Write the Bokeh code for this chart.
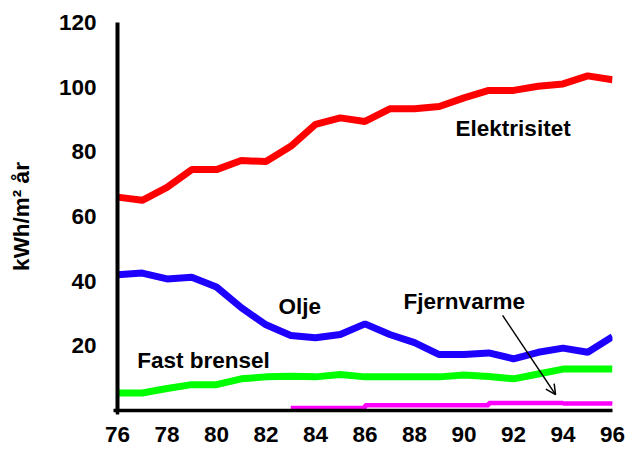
from bokeh.plotting import figure
from bokeh.models import Range1d, FixedTicker, Label, Arrow, OpenHead
from bokeh.embed import file_html
from bokeh.resources import INLINE

years = list(range(76, 97))
elektrisitet = [66, 65, 69, 74.5, 74.5, 77.3, 77, 81.7, 88.5, 90.5, 89.4,
                93.3, 93.3, 94, 96.7, 99, 99, 100.3, 101, 103.5, 102.3]
olje = [42, 42.5, 40.7, 41.2, 38.2, 31.8, 26.5, 23.2, 22.5, 23.5, 26.8,
        23.5, 21, 17.3, 17.3, 17.8, 16, 18, 19.3, 18, 22.8]
fast_brensel = [5.4, 5.4, 6.8, 8, 8, 9.8, 10.4, 10.6, 10.4, 11.1, 10.4,
                10.4, 10.4, 10.4, 11, 10.5, 9.8, 11.3, 12.8, 12.8, 12.8]
fjern_years = list(range(83, 97))
fjernvarme = [0.8, 0.8, 0.8, 1.6, 1.6, 1.6, 1.6, 1.6, 2.3, 2.3, 2.3, 2.2, 2.2, 2.1]

x_ticks = list(range(76, 97, 2))
y_ticks = [20, 40, 60, 80, 100, 120]

FONT = "Liberation Sans"
FS = "22.5px"

p = figure(width=626, height=452, output_backend="svg", toolbar_location=None,
           x_range=Range1d(76, 96), y_range=Range1d(0, 120),
           min_border_left=117, min_border_right=14, min_border_top=22,
           min_border_bottom=42)
p.outline_line_color = None
p.grid.visible = False
p.background_fill_color = "white"
p.border_fill_color = "white"

p.line(years, elektrisitet, line_color="#FF0000", line_width=7)
p.line(years, olje, line_color="#1E00FF", line_width=7)
p.line(years, fast_brensel, line_color="#00FF00", line_width=7)
p.step(fjern_years, fjernvarme, mode="after", line_color="#FF00FF", line_width=4.5)

xa = p.xaxis[0]
xa.ticker = FixedTicker(ticks=x_ticks, minor_ticks=[76])
xa.axis_line_width = 3.5
xa.axis_line_color = "black"
xa.major_tick_out = 0
xa.major_tick_in = 0
xa.minor_tick_out = 4
xa.minor_tick_in = 0
xa.minor_tick_line_width = 3.5
xa.major_label_standoff = 12
xa.major_label_text_font = FONT
xa.major_label_text_font_style = "bold"
xa.major_label_text_font_size = FS
xa.major_label_text_color = "black"

ya = p.yaxis[0]
ya.ticker = FixedTicker(ticks=y_ticks, minor_ticks=[0])
ya.axis_line_width = 4
ya.axis_line_color = "black"
ya.major_tick_out = 0
ya.major_tick_in = 0
ya.minor_tick_out = 4
ya.minor_tick_in = 0
ya.minor_tick_line_width = 3.5
ya.major_label_standoff = 17
ya.major_label_text_font = FONT
ya.major_label_text_font_style = "bold"
ya.major_label_text_font_size = FS
ya.major_label_text_color = "black"
ya.axis_label = "kWh/m² år"
ya.axis_label_text_font = FONT
ya.axis_label_text_font_style = "bold"
ya.axis_label_text_font_size = FS
ya.axis_label_text_color = "black"
ya.axis_label_standoff = 22

def add_label(x, y, t):
    p.add_layout(Label(x=x, y=y, text=t, text_font=FONT, text_font_style="bold",
                       text_font_size=FS, text_color="black",
                       text_baseline="middle", text_align="left"))

add_label(89.66, 87.2, "Elektrisitet")
add_label(82.5, 32.2, "Olje")
add_label(76.8, 15.5, "Fast brensel")
add_label(87.56, 33.7, "Fjernvarme")

p.add_layout(Arrow(x_start=91.56, y_start=29.4, x_end=93.7, y_end=4.9,
                   line_color="black", line_width=1.5,
                   end=OpenHead(size=10, line_color="black", line_width=1.5)))

open("out.html", "w").write(file_html(p, INLINE))
